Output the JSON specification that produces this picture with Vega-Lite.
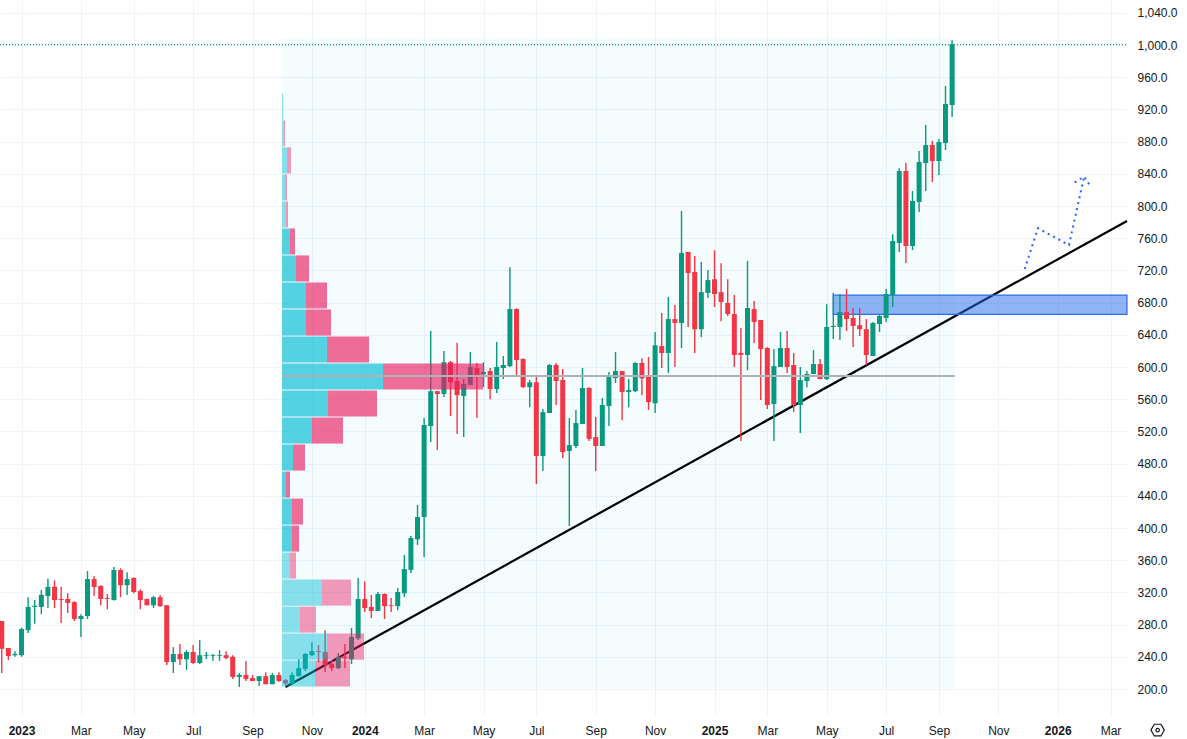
{
"$schema":"https://vega.github.io/schema/vega-lite/v6.json",
"width":1127,"height":716,"autosize":"none","padding":{"left":0,"top":0,"right":60,"bottom":23},
"background":"#ffffff",
"config":{"view":{"stroke":null},"font":"Liberation Sans"},
"datasets":{
"candles":[
{"d":"2022-12-12","o":284.5,"h":284.5,"l":220,"c":250},{"d":"2022-12-19","o":251,"h":251,"l":236,"c":241},{"d":"2022-12-26","o":242,"h":247,"l":240,"c":243.5},
{"d":"2023-01-02","o":242,"h":276,"l":240,"c":274.5},{"d":"2023-01-09","o":273,"h":314,"l":269.5,"c":302},{"d":"2023-01-16","o":302,"h":310.5,"l":281,"c":303.5},{"d":"2023-01-23","o":302,"h":323,"l":293,"c":317},{"d":"2023-01-30","o":315.5,"h":337,"l":300.6,"c":327},
{"d":"2023-02-06","o":327,"h":335,"l":300.6,"c":310.5},{"d":"2023-02-13","o":311.8,"h":327,"l":282,"c":310.5},{"d":"2023-02-20","o":311.8,"h":319,"l":294.4,"c":307},{"d":"2023-02-27","o":308,"h":309,"l":284.5,"c":287},
{"d":"2023-03-06","o":287,"h":293,"l":264.6,"c":290.7},{"d":"2023-03-13","o":290.7,"h":346.6,"l":287,"c":336.6},{"d":"2023-03-20","o":336.6,"h":340,"l":315.5,"c":326.7},{"d":"2023-03-27","o":328,"h":329,"l":304,"c":311.8},
{"d":"2023-04-03","o":313,"h":318,"l":299,"c":311.8},{"d":"2023-04-10","o":310.5,"h":351.5,"l":310,"c":347.8},{"d":"2023-04-17","o":347.8,"h":350,"l":314,"c":329},{"d":"2023-04-24","o":329,"h":345,"l":316.8,"c":336.6},
{"d":"2023-05-01","o":338,"h":339,"l":319,"c":320.5},{"d":"2023-05-08","o":321.7,"h":324,"l":299,"c":310.5},{"d":"2023-05-15","o":311.8,"h":312,"l":304,"c":304},{"d":"2023-05-22","o":304,"h":315.5,"l":300.6,"c":314},{"d":"2023-05-29","o":314,"h":316.8,"l":302,"c":303},
{"d":"2023-06-05","o":304,"h":304,"l":229.8,"c":233.5},{"d":"2023-06-12","o":233.5,"h":252,"l":220,"c":243.5},{"d":"2023-06-19","o":243.5,"h":256,"l":230,"c":237},{"d":"2023-06-26","o":237,"h":248.4,"l":223.6,"c":246},
{"d":"2023-07-03","o":246,"h":254.7,"l":231,"c":232.3},{"d":"2023-07-10","o":232.3,"h":261,"l":231,"c":242},{"d":"2023-07-17","o":241,"h":246,"l":237,"c":242},{"d":"2023-07-24","o":241,"h":243.5,"l":235,"c":242},{"d":"2023-07-31","o":241,"h":248.4,"l":235,"c":242},
{"d":"2023-08-07","o":242,"h":247,"l":237,"c":238.5},{"d":"2023-08-14","o":240,"h":242,"l":212.4,"c":215},{"d":"2023-08-21","o":215,"h":220,"l":202.5,"c":217.4},{"d":"2023-08-28","o":217.4,"h":234.8,"l":210,"c":212.4},
{"d":"2023-09-04","o":213.7,"h":217.4,"l":210,"c":210},{"d":"2023-09-11","o":210,"h":216,"l":203.7,"c":216},{"d":"2023-09-18","o":216,"h":221,"l":206,"c":206},{"d":"2023-09-25","o":206,"h":220,"l":206,"c":217.4},
{"d":"2023-10-02","o":217.4,"h":221,"l":208.7,"c":210},{"d":"2023-10-09","o":211,"h":212.4,"l":205,"c":207},{"d":"2023-10-16","o":206.6,"h":221,"l":206,"c":217.4},{"d":"2023-10-23","o":216,"h":237,"l":216,"c":226},{"d":"2023-10-30","o":225,"h":244.7,"l":222.4,"c":243.5},
{"d":"2023-11-06","o":242,"h":258,"l":241,"c":247},{"d":"2023-11-13","o":247,"h":254.7,"l":233.5,"c":246},{"d":"2023-11-20","o":246,"h":273,"l":221,"c":230},{"d":"2023-11-27","o":231,"h":236,"l":222.4,"c":226},
{"d":"2023-12-04","o":226,"h":244.7,"l":225,"c":240},{"d":"2023-12-11","o":240,"h":256,"l":226,"c":238.5},{"d":"2023-12-18","o":237,"h":276,"l":231,"c":264.6},{"d":"2023-12-25","o":263,"h":338,"l":261,"c":311.8},
{"d":"2024-01-01","o":311.8,"h":334,"l":295.6,"c":300.6},{"d":"2024-01-08","o":302,"h":316.8,"l":288,"c":297},{"d":"2024-01-15","o":297,"h":320.5,"l":297,"c":318},{"d":"2024-01-22","o":318,"h":319,"l":287,"c":303},{"d":"2024-01-29","o":304,"h":313,"l":295.6,"c":303},
{"d":"2024-02-05","o":303,"h":325.5,"l":298,"c":320.5},{"d":"2024-02-12","o":319,"h":366.5,"l":314.4,"c":349},{"d":"2024-02-19","o":348,"h":390,"l":344,"c":387.6},{"d":"2024-02-26","o":386,"h":428.6,"l":379,"c":413.7},
{"d":"2024-03-04","o":413.7,"h":536.6,"l":364,"c":528},{"d":"2024-03-11","o":526.7,"h":644.7,"l":506.8,"c":570},{"d":"2024-03-18","o":570,"h":570,"l":497,"c":566.5},{"d":"2024-03-25","o":566.5,"h":620,"l":562.7,"c":606},
{"d":"2024-04-01","o":606,"h":607.5,"l":539,"c":581},{"d":"2024-04-08","o":582.6,"h":630,"l":516.8,"c":565},{"d":"2024-04-15","o":564,"h":585,"l":513,"c":579},{"d":"2024-04-22","o":577.6,"h":618.6,"l":577.6,"c":600},{"d":"2024-04-29","o":598.7,"h":605,"l":536.6,"c":590},
{"d":"2024-05-06","o":591,"h":606,"l":575,"c":593.8},{"d":"2024-05-13","o":595,"h":598.8,"l":560,"c":572.7},{"d":"2024-05-20","o":572.7,"h":631,"l":567.7,"c":600},{"d":"2024-05-27","o":598.8,"h":613.7,"l":585,"c":602.5},
{"d":"2024-06-03","o":601,"h":724,"l":600,"c":672},{"d":"2024-06-10","o":672,"h":673,"l":590,"c":608.7},{"d":"2024-06-17","o":610,"h":611,"l":574,"c":575},{"d":"2024-06-24","o":575,"h":584,"l":550,"c":581},
{"d":"2024-07-01","o":581,"h":587.6,"l":454.6,"c":489.4},{"d":"2024-07-08","o":489.4,"h":547.8,"l":470.8,"c":544},{"d":"2024-07-15","o":542.9,"h":603.7,"l":542.9,"c":602.5},{"d":"2024-07-22","o":602.5,"h":605,"l":552.8,"c":582.6},{"d":"2024-07-29","o":583.8,"h":597.5,"l":487,"c":494.4},
{"d":"2024-08-05","o":495.7,"h":536.6,"l":402.5,"c":503},{"d":"2024-08-12","o":501.9,"h":546.6,"l":499.4,"c":530.4},{"d":"2024-08-19","o":529.2,"h":598.8,"l":529.2,"c":574},{"d":"2024-08-26","o":574,"h":575,"l":508,"c":510.6},
{"d":"2024-09-02","o":513,"h":537.9,"l":470.8,"c":501.9},{"d":"2024-09-09","o":501.9,"h":561.5,"l":501.9,"c":552.8},{"d":"2024-09-16","o":551.6,"h":593.8,"l":526.7,"c":587.6},{"d":"2024-09-23","o":586.3,"h":618.6,"l":580,"c":595},{"d":"2024-09-30","o":595,"h":595,"l":534,"c":569},
{"d":"2024-10-07","o":569,"h":585,"l":550,"c":571.4},{"d":"2024-10-14","o":570,"h":606,"l":569,"c":605},{"d":"2024-10-21","o":605,"h":611,"l":565,"c":586},{"d":"2024-10-28","o":587.6,"h":612.4,"l":546.6,"c":556.5},
{"d":"2024-11-04","o":555,"h":643.5,"l":542.9,"c":627},{"d":"2024-11-11","o":626,"h":667,"l":598.8,"c":617.4},{"d":"2024-11-18","o":617.4,"h":687,"l":592.5,"c":659.6},{"d":"2024-11-25","o":659.6,"h":677,"l":600,"c":654.7},
{"d":"2024-12-02","o":654.7,"h":793.8,"l":623.6,"c":741.6},{"d":"2024-12-09","o":743,"h":743,"l":649.7,"c":716.8},{"d":"2024-12-16","o":718,"h":738,"l":617.4,"c":647},{"d":"2024-12-23","o":647,"h":730.4,"l":637,"c":693},{"d":"2024-12-30","o":692,"h":720.5,"l":685.7,"c":708},
{"d":"2025-01-06","o":709,"h":745,"l":674.5,"c":690.7},{"d":"2025-01-13","o":693,"h":729,"l":657,"c":680.7},{"d":"2025-01-20","o":679.5,"h":709,"l":663,"c":665.8},{"d":"2025-01-27","o":665.8,"h":689.4,"l":600,"c":615},
{"d":"2025-02-03","o":617.4,"h":648.4,"l":508,"c":615},{"d":"2025-02-10","o":615,"h":731.7,"l":596,"c":673.3},{"d":"2025-02-17","o":672,"h":682,"l":629.8,"c":656},{"d":"2025-02-24","o":658.4,"h":658.4,"l":559,"c":622.4},
{"d":"2025-03-03","o":623.6,"h":624.8,"l":547.8,"c":552.8},{"d":"2025-03-10","o":554,"h":622.4,"l":508,"c":601},{"d":"2025-03-17","o":600,"h":643.5,"l":600,"c":623.6},{"d":"2025-03-24","o":623.6,"h":644.7,"l":592.5,"c":600},{"d":"2025-03-31","o":602.5,"h":617.4,"l":544,"c":552.8},
{"d":"2025-04-07","o":552.8,"h":600,"l":518,"c":583.8},{"d":"2025-04-14","o":582.6,"h":595,"l":575,"c":591.3},{"d":"2025-04-21","o":591.3,"h":621,"l":591.3,"c":603.7},{"d":"2025-04-28","o":603.7,"h":610,"l":585,"c":585},
{"d":"2025-05-05","o":585,"h":678,"l":583.8,"c":649.7},{"d":"2025-05-12","o":649.7,"h":692,"l":634.8,"c":651},{"d":"2025-05-19","o":649.7,"h":690.7,"l":633.5,"c":668.3},{"d":"2025-05-26","o":668.3,"h":696.9,"l":644.7,"c":659.6},
{"d":"2025-06-02","o":660.9,"h":673.3,"l":624.8,"c":651},{"d":"2025-06-09","o":652,"h":673.3,"l":638.5,"c":647},{"d":"2025-06-16","o":647,"h":659.6,"l":602.5,"c":614.9},{"d":"2025-06-23","o":613.7,"h":656,"l":613.7,"c":654.7},{"d":"2025-06-30","o":653.4,"h":664.6,"l":643.5,"c":663.4},
{"d":"2025-07-07","o":660.9,"h":696.9,"l":656,"c":690.7},{"d":"2025-07-14","o":689.4,"h":765,"l":674.5,"c":756.5},{"d":"2025-07-21","o":754,"h":847,"l":742.9,"c":843.5},{"d":"2025-07-28","o":843.5,"h":853.8,"l":729.2,"c":750.3},
{"d":"2025-08-04","o":750.3,"h":818.6,"l":745.3,"c":806.2},{"d":"2025-08-11","o":805,"h":868.3,"l":792.5,"c":854.6},{"d":"2025-08-18","o":853.4,"h":900.6,"l":818.6,"c":875.8},{"d":"2025-08-25","o":875.8,"h":880.8,"l":829.8,"c":855.9},
{"d":"2025-09-01","o":855.9,"h":883.2,"l":838.5,"c":879.5},{"d":"2025-09-08","o":878.3,"h":949,"l":869.6,"c":926.7},{"d":"2025-09-15","o":925.5,"h":1006,"l":910.6,"c":1001}
],
"profile":[
{"low":203,"high":235.3,"up":33,"total":68,"zone":"out"},{"low":236.5,"high":268.9,"up":45,"total":82,"zone":"out"},{"low":270.1,"high":302.4,"up":18,"total":34,"zone":"out"},{"low":303.6,"high":336,"up":40,"total":69,"zone":"out"},{"low":337.2,"high":369.5,"up":8,"total":14,"zone":"out"},
{"low":370.7,"high":403.1,"up":10,"total":17,"zone":"in"},{"low":404.3,"high":436.6,"up":10,"total":21,"zone":"in"},{"low":437.8,"high":470.2,"up":4,"total":8,"zone":"in"},{"low":471.4,"high":503.7,"up":11,"total":23,"zone":"in"},{"low":504.9,"high":537.3,"up":30,"total":61,"zone":"in"},
{"low":538.5,"high":570.8,"up":46,"total":95,"zone":"in"},{"low":572,"high":604.4,"up":101,"total":201,"zone":"in"},{"low":605.6,"high":637.9,"up":45,"total":87,"zone":"in"},{"low":639.1,"high":671.5,"up":24,"total":49,"zone":"in"},{"low":672.7,"high":705,"up":24,"total":45,"zone":"in"},
{"low":706.2,"high":738.6,"up":14,"total":27,"zone":"in"},{"low":739.8,"high":772.1,"up":8,"total":13,"zone":"in"},{"low":773.3,"high":805.7,"up":4,"total":6,"zone":"out"},{"low":806.9,"high":839.2,"up":3,"total":5,"zone":"out"},{"low":840.4,"high":872.8,"up":5,"total":9,"zone":"out"},{"low":874,"high":906.3,"up":2,"total":3,"zone":"out"},{"low":907.5,"high":939.9,"up":1,"total":1,"zone":"out"}
]},
"layer":[
{"data":{"values":[{"a":"2023-10-05T07:00:00Z","b":"2025-09-17T19:00:00Z","lo":201,"hi":1008.7}]},"mark":{"type":"rect","color":"#00bcd4","opacity":0.045},
"encoding":{
"x":{"field":"a","type":"temporal","title":null,"scale":{"type":"utc","padding":0,"domain":["2022-12-10T04:00:00Z","2026-03-19T12:00:00Z"]},
"axis":{"title":null,"domain":false,"ticks":false,"grid":true,"gridColor":"#F0F3FA","gridWidth":1,"labelColor":"#131722","labelFontSize":12,"labelFont":"Liberation Sans","labelPadding":9,"labelAngle":0,"labelFlush":false,"labelOverlap":false,"tickCount":40,
"values":["2023-01-02","2023-03-06","2023-05-01","2023-07-03","2023-09-04","2023-11-06","2024-01-01","2024-03-04","2024-05-06","2024-07-01","2024-09-02","2024-11-04","2025-01-06","2025-03-03","2025-05-05","2025-07-07","2025-09-01","2025-11-03","2026-01-05","2026-03-02"],
"labelExpr":"utcmonth(datum.value)==0 ? utcFormat(datum.value,'%Y') : utcFormat(datum.value,'%b')",
"labelFontWeight":{"condition":{"test":"utcmonth(datum.value)==0","value":"bold"},"value":"normal"}}},
"x2":{"field":"b"},
"y":{"field":"lo","type":"quantitative","title":null,"scale":{"domain":[166.5,1055.9],"nice":false,"zero":false},
"axis":{"title":null,"orient":"right","domain":false,"ticks":false,"grid":true,"gridColor":"#F0F3FA","gridWidth":1,"labelColor":"#131722","labelFontSize":12,"labelFont":"Liberation Sans","labelPadding":10,"labelAlign":"left","labelFlush":false,"labelOverlap":false,"format":",.1f","tickCount":40,
"values":[200,240,280,320,360,400,440,480,520,560,600,640,680,720,760,800,840,880,920,960,1000,1040]}},
"y2":{"field":"hi"}}},
{"data":{"values":[{"d":"2023-10-09","v":202.5},{"d":"2026-03-19T12:00:00Z","v":781.4}]},"mark":{"type":"line","color":"#000000","strokeWidth":2.2},
"encoding":{"x":{"field":"d","type":"temporal"},"y":{"field":"v","type":"quantitative"}}},
{"data":{"values":[{"a":"2025-05-12","b":"2026-03-19T12:00:00Z","lo":665.5,"hi":689.4}]},"mark":{"type":"rect","fill":"#2168e8","fillOpacity":0.5,"stroke":"#2E6FE8","strokeWidth":1.2},
"encoding":{"x":{"field":"a","type":"temporal"},"x2":{"field":"b"},"y":{"field":"lo","type":"quantitative"},"y2":{"field":"hi"}}},
{"data":{"name":"candles"},"transform":[{"calculate":"datum.c>=datum.o?'up':'down'","as":"dir"}],"mark":{"type":"rule","strokeWidth":1.4},
"encoding":{"x":{"field":"d","type":"temporal"},"y":{"field":"l","type":"quantitative"},"y2":{"field":"h"},"color":{"field":"dir","type":"nominal","legend":null,"scale":{"domain":["up","down"],"range":["#089981","#F23645"]}}}},
{"data":{"name":"candles"},"transform":[{"calculate":"datum.c>=datum.o?'up':'down'","as":"dir"}],"mark":{"type":"bar","width":5},
"encoding":{"x":{"field":"d","type":"temporal"},"y":{"field":"o","type":"quantitative"},"y2":{"field":"c"},"color":{"field":"dir","type":"nominal","legend":null}}},
{"data":{"name":"profile"},"transform":[{"calculate":"toDate('2023-10-05T07:00:00Z')","as":"x0"},{"calculate":"toDate('2023-10-05T07:00:00Z')+datum.up*91636364","as":"x1"}],"mark":{"type":"rect","color":"#00bcd4"},"encoding":{"x":{"field":"x0","type":"temporal"},"x2":{"field":"x1"},"y":{"field":"low","type":"quantitative"},"y2":{"field":"high"},"opacity":{"field":"zone","type":"nominal","legend":null,"scale":{"domain":["in","out"],"range":[0.65,0.45]}}}},
{"data":{"name":"profile"},"transform":[{"calculate":"toDate('2023-10-05T07:00:00Z')+datum.up*91636364","as":"x1"},{"calculate":"toDate('2023-10-05T07:00:00Z')+datum.total*91636364","as":"x2"}],"mark":{"type":"rect","color":"#e91e63"},"encoding":{"x":{"field":"x1","type":"temporal"},"x2":{"field":"x2"},"y":{"field":"low","type":"quantitative"},"y2":{"field":"high"},"opacity":{"field":"zone","type":"nominal","legend":null}}},
{"data":{"values":[{"a":"2023-10-05T07:00:00Z","b":"2025-09-17T19:00:00Z","v":588.8}]},"mark":{"type":"rule","color":"#AEB1B5","strokeWidth":2},
"encoding":{"x":{"field":"a","type":"temporal"},"x2":{"field":"b"},"y":{"field":"v","type":"quantitative"}}},
{"data":{"values":[{"a":"2022-12-10T04:00:00Z","b":"2026-03-19T12:00:00Z","v":1000.5}]},"mark":{"type":"rule","color":"#00a58c","strokeWidth":1.2,"strokeDash":[1,2]},
"encoding":{"x":{"field":"a","type":"temporal"},"x2":{"field":"b"},"y":{"field":"v","type":"quantitative"}}},
{"data":{"values":[{"d":"2025-12-01","v":721.7,"s":"shaft"},{"d":"2025-12-15","v":772.3,"s":"shaft"},{"d":"2026-01-17","v":751.6,"s":"shaft"},{"d":"2026-02-02","v":836.4,"s":"shaft"},{"d":"2026-01-23","v":829.4,"s":"head"},{"d":"2026-02-02","v":836.4,"s":"head"},{"d":"2026-02-09T12:00:00Z","v":823.2,"s":"head"}]},"mark":{"type":"line","color":"#2962FF","strokeWidth":2,"strokeDash":[2,4]},
"encoding":{"x":{"field":"d","type":"temporal"},"y":{"field":"v","type":"quantitative"},"detail":{"field":"s","type":"nominal"}}},
{"data":{"values":[{"d":"2026-04-21","v":149}]},"mark":{"type":"point","shape":"M-1,0L-0.5,-0.87L0.5,-0.87L1,0L0.5,0.87L-0.5,0.87Z","size":180,"stroke":"#131722","strokeWidth":1.2,"fill":null,"opacity":1},
"encoding":{"x":{"field":"d","type":"temporal"},"y":{"field":"v","type":"quantitative"}}},
{"data":{"values":[{"d":"2026-04-21","v":149}]},"mark":{"type":"point","shape":"circle","size":12,"stroke":"#131722","strokeWidth":1.2,"fill":null,"opacity":1},
"encoding":{"x":{"field":"d","type":"temporal"},"y":{"field":"v","type":"quantitative"}}}
]
}
